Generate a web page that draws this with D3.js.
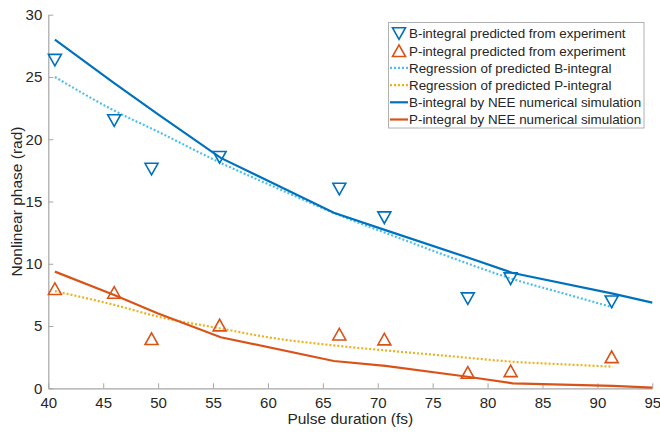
<!DOCTYPE html>
<html>
<head>
<meta charset="utf-8">
<script src="https://cdn.jsdelivr.net/npm/d3@7"></script>
<style>
  html, body { margin: 0; padding: 0; background: #fff; }
  svg { display: block; font-family: "Liberation Sans", Arial, sans-serif; }
</style>
</head>
<body>
<svg id="chart" width="660" height="436"></svg>
<script>
// ---- data ----
const expDuration = [40.6, 46.0, 49.4, 55.6, 66.5, 70.6, 78.2, 82.1, 91.3];
const bPredicted = [26.35, 21.5, 17.6, 18.55, 16.0, 13.7, 7.2, 8.8, 6.95];
const pPredicted = [8.0, 7.7, 3.98, 5.08, 4.35, 3.95, 1.27, 1.4, 2.53];

const regDuration = [40.6, 46.0, 50.0, 55.7, 60.0, 66.5, 72.0, 77.0, 82.2, 87.0, 91.4];
const bRegression = [25.0, 22.3, 20.6, 18.1, 16.4, 13.9, 12.05, 10.4, 8.8, 7.6, 6.5];
const pRegression = [7.8, 6.7, 5.75, 4.8, 4.1, 3.4, 2.94, 2.55, 2.14, 1.92, 1.74];

const simDuration = [40.6, 46.0, 50.0, 55.7, 66.0, 70.7, 78.2, 82.3, 91.4, 95.0];
const bSimulation = [28.0, 24.5, 22.0, 18.5, 14.1, 12.7, 10.5, 9.26, 7.6, 6.88];
const pSimulation = [9.37, 7.5, 6.0, 4.1, 2.19, 1.8, 0.93, 0.4, 0.2, 0.05];

const xTicks = [40, 45, 50, 55, 60, 65, 70, 75, 80, 85, 90, 95];
const yTicks = [0, 5, 10, 15, 20, 25, 30];

const legendLabels = [
  "B-integral predicted from experiment",
  "P-integral predicted from experiment",
  "Regression of predicted B-integral",
  "Regression of predicted P-integral",
  "B-integral by NEE numerical simulation",
  "P-integral by NEE numerical simulation"
];

// ---- colours ----
const cB = "#0072BD", cP = "#D95319", cRB = "#4DBEEE", cRP = "#EDB120";
const txt = "#262626", axisCol = "#a6a6a6";

const svg = d3.select("#chart");
const mLeft = 48.3, mRight = 652.3, mTop = 14.7, mBottom = 388.3;

const x = d3.scaleLinear().domain([40, 95]).range([mLeft, mRight]);
const y = d3.scaleLinear().domain([0, 30]).range([mBottom, mTop]);

// axes
const xAxis = d3.axisBottom(x).tickValues(xTicks).tickSizeInner(-5).tickSizeOuter(0).tickPadding(9);
const yAxis = d3.axisLeft(y).tickValues(yTicks).tickSizeInner(-5).tickSizeOuter(0).tickPadding(6);

const gx = svg.append("g").attr("transform", `translate(0,${mBottom})`).call(xAxis);
const gy = svg.append("g").attr("transform", `translate(${mLeft},0)`).call(yAxis);
[gx, gy].forEach(g => {
  g.select(".domain").attr("stroke", axisCol).attr("stroke-width", 1.2);
  g.selectAll(".tick line").attr("stroke", axisCol).attr("stroke-width", 1);
  g.selectAll(".tick text").attr("fill", txt).style("font-size", "15px")
    .style("font-family", '"Liberation Sans", Arial, sans-serif');
});

// axis labels
svg.append("text").attr("x", (mLeft + mRight) / 2).attr("y", 424)
  .attr("text-anchor", "middle").attr("fill", txt).style("font-size", "15.5px")
  .text("Pulse duration (fs)");
svg.append("text").attr("transform", `translate(22,${(mTop + mBottom) / 2}) rotate(-90)`)
  .attr("text-anchor", "middle").attr("fill", txt).style("font-size", "15.5px")
  .text("Nonlinear phase (rad)");

const line = d3.line().x(d => x(d[0])).y(d => y(d[1]));
const smooth = d3.line().curve(d3.curveMonotoneX).x(d => x(d[0])).y(d => y(d[1]));
const zip = (a, b) => a.map((v, i) => [v, b[i]]);

// regression lines (dotted)
svg.append("path").datum(zip(regDuration, bRegression)).attr("d", smooth)
  .attr("fill", "none").attr("stroke", cRB).attr("stroke-width", 2.2).attr("stroke-dasharray", "2 2");
svg.append("path").datum(zip(regDuration, pRegression)).attr("d", smooth)
  .attr("fill", "none").attr("stroke", cRP).attr("stroke-width", 2.2).attr("stroke-dasharray", "2 2");

// simulation lines (solid)
svg.append("path").datum(zip(simDuration, bSimulation)).attr("d", line)
  .attr("fill", "none").attr("stroke", cB).attr("stroke-width", 2.2);
svg.append("path").datum(zip(simDuration, pSimulation)).attr("d", line)
  .attr("fill", "none").attr("stroke", cP).attr("stroke-width", 2.2);

// triangles
function tri(cx, cy, down) {
  const w = 6.5, h = 5.8;
  if (down) return `M${cx - w},${cy - h}L${cx + w},${cy - h}L${cx},${cy + h}Z`;
  return `M${cx - w},${cy + h}L${cx + w},${cy + h}L${cx},${cy - h}Z`;
}
svg.append("g").selectAll("path").data(zip(expDuration, bPredicted)).join("path")
  .attr("d", d => tri(x(d[0]), y(d[1]), true))
  .attr("fill", "none").attr("stroke", cB).attr("stroke-width", 1.6);
svg.append("g").selectAll("path").data(zip(expDuration, pPredicted)).join("path")
  .attr("d", d => tri(x(d[0]), y(d[1]), false))
  .attr("fill", "none").attr("stroke", cP).attr("stroke-width", 1.6);

// legend
const lg = svg.append("g");
lg.append("rect").attr("x", 388.5).attr("y", 22.5).attr("width", 255.5).attr("height", 105.5)
  .attr("fill", "#fff").attr("stroke", "#b0b0b0").attr("stroke-width", 1);
const rowY = i => 33.5 + i * 17.2;
const styles = [
  { type: "tri", down: true, c: cB },
  { type: "tri", down: false, c: cP },
  { type: "line", c: cRB, dash: "2 2" },
  { type: "line", c: cRP, dash: "2 2" },
  { type: "line", c: cB, dash: null },
  { type: "line", c: cP, dash: null }
];
legendLabels.forEach((lab, i) => {
  const s = styles[i], cy = rowY(i);
  if (s.type === "tri") {
    lg.append("path").attr("d", tri(399, cy, s.down)).attr("fill", "none")
      .attr("stroke", s.c).attr("stroke-width", 1.6);
  } else {
    lg.append("line").attr("x1", 390).attr("x2", 408).attr("y1", cy).attr("y2", cy)
      .attr("stroke", s.c).attr("stroke-width", 2.2).attr("stroke-dasharray", s.dash);
  }
  lg.append("text").attr("x", 409).attr("y", cy + 4.8).attr("fill", txt)
    .style("font-size", "13.4px").text(lab);
});
</script>
</body>
</html>
